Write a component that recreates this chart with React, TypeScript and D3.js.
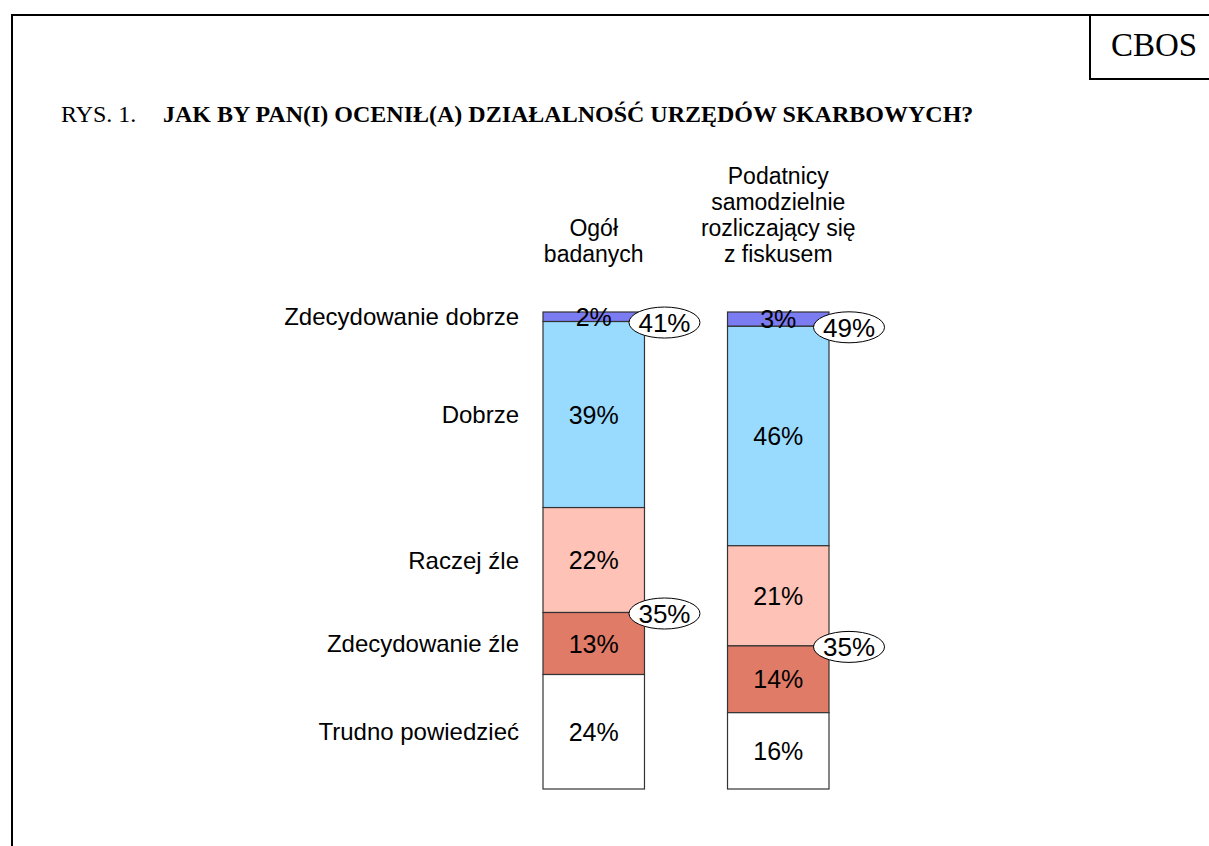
import React from "react";
import * as d3 from "d3";

const groups = ["Ogół badanych", "Podatnicy samodzielnie rozliczający się z fiskusem"];
const groupHeaderLines = [["Ogół", "badanych"], ["Podatnicy", "samodzielnie", "rozliczający się", "z fiskusem"]];
const categories = ["Zdecydowanie dobrze", "Dobrze", "Raczej źle", "Zdecydowanie źle", "Trudno powiedzieć"];
const valuesOgol = [2, 39, 22, 13, 24];
const valuesPodatnicy = [3, 46, 21, 14, 16];
const positiveTotals = [41, 49];
const negativeTotals = [35, 35];
const colors = ["#7B7BF2", "#99DBFF", "#FFC2B6", "#E07B68", "#FFFFFF"];

const W = 1209;
const H = 846;

export default function App() {
  const series = [valuesOgol, valuesPodatnicy];
  const x = d3.scaleBand<string>().domain(groups).range([543, 829]).paddingInner(0.45).paddingOuter(0);
  const y = d3.scaleLinear().domain([0, 100]).range([312, 789]);
  const stacks = series.map((vals) => {
    let acc = 0;
    return vals.map((v) => {
      const s = { y0: acc, y1: acc + v, v };
      acc += v;
      return s;
    });
  });
  const sans = "'Liberation Sans', Arial, sans-serif";
  const serif = "'Liberation Serif', 'Times New Roman', serif";
  const bw = x.bandwidth();

  return (
    <div style={{ position: "absolute", left: 0, top: 0 }}>
      <svg width={W} height={H} style={{ display: "block", background: "#fff" }}>
        {/* frame */}
        <line x1={12} y1={15} x2={12} y2={H} stroke="#000" strokeWidth={2} />
        <line x1={11} y1={15} x2={W} y2={15} stroke="#000" strokeWidth={2} />
        <line x1={1090} y1={15} x2={1090} y2={79} stroke="#000" strokeWidth={2} />
        <line x1={1089} y1={79} x2={W} y2={79} stroke="#000" strokeWidth={2} />
        <text x={1154} y={56} textAnchor="middle" fontFamily={serif} fontSize={33}>CBOS</text>

        {/* title */}
        <text x={61} y={122} fontFamily={serif} fontSize={24}>RYS. 1.</text>
        <text x={163} y={122} fontFamily={serif} fontSize={24} fontWeight="bold">
          JAK BY PAN(I) OCENIŁ(A) DZIAŁALNOŚĆ URZĘDÓW SKARBOWYCH?
        </text>

        {/* headers */}
        {groups.map((g, gi) => {
          const lines = groupHeaderLines[gi];
          const cx = (x(g) as number) + bw / 2;
          return (
            <text key={g} textAnchor="middle" fontFamily={sans} fontSize={23} fill="#000">
              {lines.map((ln, li) => (
                <tspan key={li} x={cx} y={262 - (lines.length - 1 - li) * 26}>{ln}</tspan>
              ))}
            </text>
          );
        })}

        {/* row labels */}
        {categories.map((c, i) => {
          const s = stacks[0][i];
          const cy = (y(s.y0) + y(s.y1)) / 2;
          return (
            <text key={c} x={519} y={cy} dy="0.36em" textAnchor="end" fontFamily={sans} fontSize={24}>{c}</text>
          );
        })}

        {/* bars */}
        {groups.map((g, gi) => {
          const x0 = x(g) as number;
          return (
            <g key={g}>
              {stacks[gi].map((s, i) => (
                <rect key={i} x={x0} y={y(s.y0)} width={bw} height={y(s.y1) - y(s.y0)}
                  fill={colors[i]} stroke="#333" strokeWidth={1.2} />
              ))}
              {stacks[gi].map((s, i) => (
                <text key={"t" + i} x={x0 + bw / 2} y={(y(s.y0) + y(s.y1)) / 2} dy="0.36em"
                  textAnchor="middle" fontFamily={sans} fontSize={25}>{s.v}%</text>
              ))}
              {[{ val: positiveTotals[gi], at: stacks[gi][1].y0 }, { val: negativeTotals[gi], at: stacks[gi][3].y0 }].map((e, k) => (
                <g key={"e" + k} transform={`translate(${x0 + bw + 20},${y(e.at) + 1})`}>
                  <ellipse rx={35.5} ry={15.5} fill="#fff" stroke="#000" strokeWidth={1} />
                  <text dy="0.36em" textAnchor="middle" fontFamily={sans} fontSize={26}>{e.val}%</text>
                </g>
              ))}
            </g>
          );
        })}
      </svg>
    </div>
  );
}
